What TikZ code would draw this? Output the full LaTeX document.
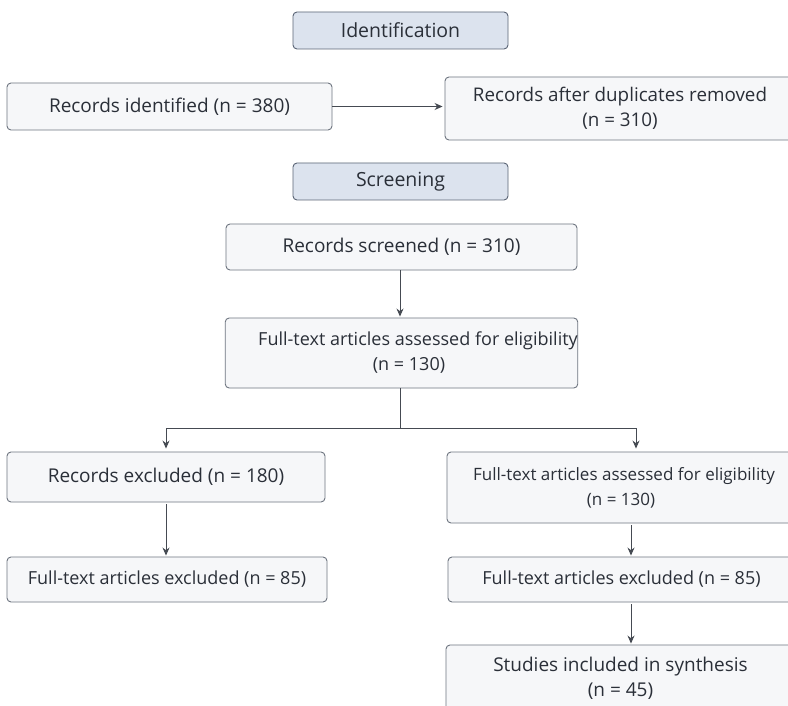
\documentclass[tikz,border=0pt]{standalone}
\usepackage{fontspec}
\setmainfont{Open Sans}
\usetikzlibrary{arrows.meta,calc}
\definecolor{boxfill}{HTML}{F6F7F9}
\definecolor{boxdraw}{HTML}{6E7580}
\definecolor{hdrfill}{HTML}{DCE3EE}
\definecolor{hdrdraw}{HTML}{5B6576}
\definecolor{txt}{HTML}{2A2F38}
\definecolor{lnk}{HTML}{454A52}
\begin{document}
\begin{tikzpicture}[x=1pt,y=-1pt,
  box/.style={draw=boxdraw,fill=boxfill,rounded corners=4pt,line width=0.9pt,
    text=txt,font=\fontsize{19}{25}\selectfont,align=center,inner sep=0pt},
  small/.style={font=\fontsize{18}{25}\selectfont},
  hdr/.style={box,fill=hdrfill,draw=hdrdraw,minimum width=215pt,minimum height=37pt,font=\fontsize{19.5}{24}\selectfont},
  link/.style={draw=lnk,line width=1pt,-{Stealth[length=8pt,width=7pt]}},
  plain/.style={draw=lnk,line width=1pt}]
\useasboundingbox (0,0) rectangle (788,706);
\fill[white] (0,0) rectangle (788,706);
\node[hdr] (ident) at (400.5,30.5) {Identification};
\node[box,minimum width=325pt,minimum height=47pt] (recid) at (169.5,106.5) {Records identified (n = 380)};
\node[box,minimum width=350pt,minimum height=63pt,font=\fontsize{18.8}{25}\selectfont] (dup) at (620,108.5) {Records after duplicates removed\\(n = 310)};
\node[hdr] (screen) at (400.5,181.5) {Screening};
\node[box,minimum width=351pt,minimum height=46pt] (scr) at (401.5,247) {Records screened (n = 310)};
\node[box,small,minimum width=351pt,minimum height=70pt] (fta) at (401.5,353) {\hspace*{33pt}Full-text articles assessed for eligibility\\\hspace*{15pt}(n = 130)};
\node[box,minimum width=318pt,minimum height=50pt] (recex) at (166,477) {Records excluded (n = 180)};
\node[box,small,minimum width=320pt,minimum height=45pt] (ftel) at (167,579.5) {Full-text articles excluded (n = 85)};
\node[box,minimum width=348pt,minimum height=71pt,font=\fontsize{17}{25}\selectfont] (fta2) at (621,487.5) {\hspace*{6pt}Full-text articles assessed for eligibility\\(n = 130)};
\node[box,small,minimum width=347pt,minimum height=45pt] (fte2) at (621.5,579.5) {Full-text articles excluded (n = 85)};
\node[box,minimum width=349pt,minimum height=67pt] (stud) at (620.5,678.5) {Studies included in synthesis\\(n = 45)};
\coordinate (split) at (400,428);
\coordinate (lt) at (166,428);
\coordinate (rt) at (636,428);
\draw[link,shorten >=2pt] (recid.east) -- (recid.east -| dup.west);
\draw[link,shorten >=1pt] (400,0 |- scr.south) -- (400,0 |- fta.north);
\draw[plain] (400,0 |- fta.south) -- (split);
\draw[plain] (lt) -- (rt);
\draw[link,shorten >=3pt] (lt) -- (lt |- recex.north);
\draw[link,shorten >=3pt] (rt) -- (rt |- fta2.north);
\draw[link,shorten >=1pt,shorten <=2pt] (166,0 |- recex.south) -- (166,0 |- ftel.north);
\draw[link,shorten >=1pt,shorten <=2pt] (631,0 |- fta2.south) -- (631,0 |- fte2.north);
\draw[link,shorten >=1pt,shorten <=2pt] (631,0 |- fte2.south) -- (631,0 |- stud.north);
\end{tikzpicture}
\end{document}
